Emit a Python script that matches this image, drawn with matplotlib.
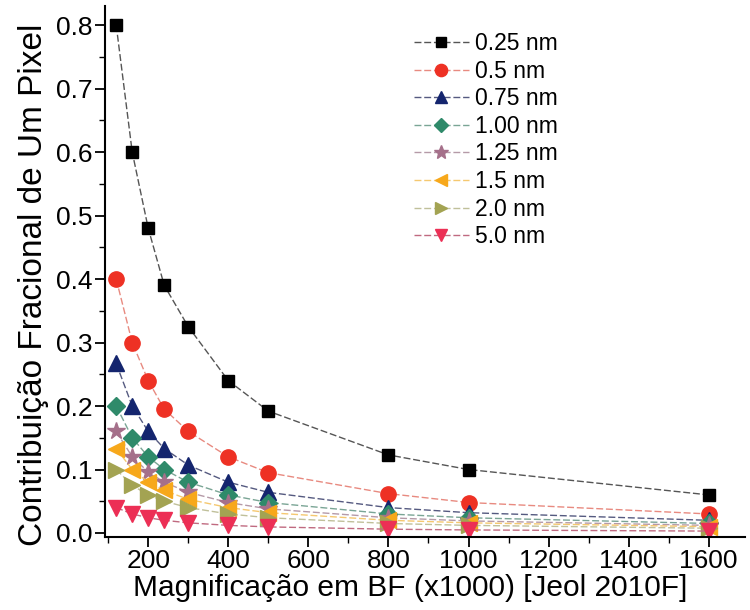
import numpy as np
import matplotlib
matplotlib.use('Agg')
import matplotlib.pyplot as plt
from matplotlib.ticker import MultipleLocator

plt.rcParams['font.family'] = ['Liberation Sans', 'DejaVu Sans']

# magnification (x1000)
mag = [120, 160, 200, 240, 300, 400, 500, 800, 1000, 1600]

s025 = [0.80, 0.60, 0.48, 0.39, 0.325, 0.24, 0.192, 0.123, 0.10, 0.06]
s05 = [0.40, 0.30, 0.24, 0.195, 0.16, 0.12, 0.095, 0.062, 0.048, 0.03]
s075 = [0.267, 0.20, 0.16, 0.133, 0.107, 0.08, 0.064, 0.04, 0.032, 0.02]
s100 = [0.20, 0.15, 0.12, 0.10, 0.08, 0.06, 0.048, 0.03, 0.024, 0.015]
s125 = [0.16, 0.12, 0.096, 0.08, 0.064, 0.048, 0.038, 0.024, 0.019, 0.012]
s15 = [0.133, 0.10, 0.08, 0.067, 0.053, 0.04, 0.032, 0.02, 0.016, 0.01]
s20 = [0.10, 0.075, 0.06, 0.05, 0.04, 0.03, 0.024, 0.015, 0.012, 0.0075]
s50 = [0.04, 0.03, 0.024, 0.02, 0.016, 0.012, 0.0096, 0.006, 0.0048, 0.003]

labels = ['0.25 nm', '0.5 nm', '0.75 nm', '1.00 nm', '1.25 nm', '1.5 nm', '2.0 nm', '5.0 nm']
series = [s025, s05, s075, s100, s125, s15, s20, s50]
markers = ['s', 'o', '^', 'D', '*', '<', '>', 'v']
mcolors = ['#000000', '#ee3124', '#14256e', '#2f8a6a', '#a5708a', '#f7a81b', '#a3a352', '#ec2f55']
lcolors = ['#555555', '#e88a80', '#555a80', '#7aa595', '#b59aa8', '#f5c870', '#c0c09a', '#c06a80']
msizes = [9, 11, 11, 9, 13, 11, 11, 11]

fig = plt.figure(figsize=(7.5, 6.1), dpi=100)
ax = fig.add_axes([0.14, 0.12, 0.853, 0.87])

for y, lab, m, mc, lc, ms in zip(series, labels, markers, mcolors, lcolors, msizes):
    ax.plot(mag, y, '-', color=lc, lw=1.0, marker=m, markersize=ms, dashes=(5, 2),
            markerfacecolor=mc, markeredgecolor=mc, label=lab)

ax.set_xlim(92, 1690)
ax.set_ylim(-0.006, 0.83)
ax.xaxis.set_minor_locator(MultipleLocator(100))
ax.yaxis.set_minor_locator(MultipleLocator(0.05))
ax.set_xticks(np.arange(200, 1601, 200))
ax.set_yticks(np.arange(0, 0.81, 0.1))
ax.set_yticklabels(['%.1f' % v for v in np.arange(0, 0.81, 0.1)])

for sp in ['top', 'right']:
    ax.spines[sp].set_visible(False)
ax.spines['left'].set_linewidth(1.5)
ax.spines['bottom'].set_linewidth(1.5)
ax.tick_params(which='major', direction='out', length=7, width=1.3, labelsize=19, pad=2)
ax.tick_params(which='minor', direction='out', length=4, width=1.0)

ax.set_xlabel('Magnificação em BF (x1000) [Jeol 2010F]', fontsize=21.5)
ax.set_ylabel('Contribuição Fracional de Um Pixel', fontsize=24)
ax.xaxis.set_label_coords(0.477, -0.07)
ax.yaxis.set_label_coords(-0.088, 0.475)

ax.legend(loc='upper left', bbox_to_anchor=(0.45, 0.99), frameon=False, fontsize=16.5,
          handlelength=2.4, handletextpad=0.3, labelspacing=0.2, markerscale=0.8)

fig.savefig('out.png', dpi=100)
